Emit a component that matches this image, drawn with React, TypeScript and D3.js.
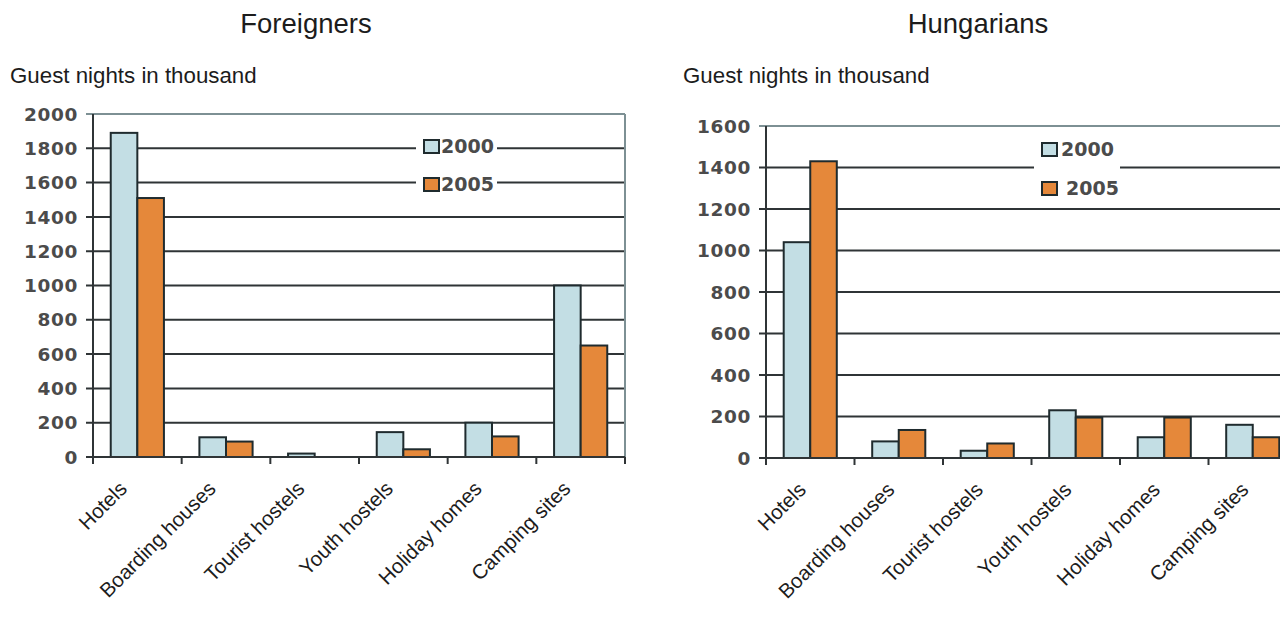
import React from "react";
import * as d3 from "d3";

const categories = ["Hotels", "Boarding houses", "Tourist hostels", "Youth hostels", "Holiday homes", "Camping sites"];
const years = ["2000", "2005"];
const foreigners2000 = [1890, 115, 20, 145, 200, 1000];
const foreigners2005 = [1510, 90, 0, 45, 120, 650];
const hungarians2000 = [1040, 80, 35, 230, 100, 160];
const hungarians2005 = [1430, 135, 70, 195, 195, 100];
const foreignersTicks = [0, 200, 400, 600, 800, 1000, 1200, 1400, 1600, 1800, 2000];
const hungariansTicks = [0, 200, 400, 600, 800, 1000, 1200, 1400, 1600];
const yAxisLabel = "Guest nights in thousand";

const COLORS: Record<string, string> = { "2000": "#c3dee4", "2005": "#e5883a" };
const GRID = "#2f3436";
const FRAME = "#7d9094";
const TICK_TEXT = "#4b4b4b";

type PanelProps = {
  title: string;
  titleX: number;
  labelX: number;
  x0: number;
  x1: number;
  yTop: number;
  yBottom: number;
  ticks: number[];
  s2000: number[];
  s2005: number[];
  catShift: number;
  legend: { bgX: number; bgY: number; bgW: number; bgH: number; items: { bx: number; by: number; tx: number }[] };
};

function Panel(p: PanelProps) {
  const max = p.ticks[p.ticks.length - 1];
  const y = d3.scaleLinear().domain([0, max]).range([p.yBottom, p.yTop]);
  const x = d3.scaleBand<string>().domain(categories).range([p.x0, p.x1]).padding(0);
  const xs = d3.scaleBand<string>().domain(years).range([0, x.bandwidth()]).paddingInner(0).paddingOuter(0.667);
  const series: Record<string, number[]> = { "2000": p.s2000, "2005": p.s2005 };
  const tickXs = categories.map((c) => x(c)!).concat([p.x1]);
  return (
    <g>
      <text x={p.titleX} y={33} textAnchor="middle" fontFamily="Liberation Sans, Arial, sans-serif" fontSize={27.5} fill="#1c1c1c">
        {p.title}
      </text>
      <text x={p.labelX} y={82.5} fontFamily="Liberation Sans, Arial, sans-serif" fontSize={22.3} fill="#1c1c1c">
        {yAxisLabel}
      </text>
      {p.ticks.map((t) => (
        <line
          key={"g" + t}
          x1={p.x0 - 7}
          x2={p.x1}
          y1={y(t)}
          y2={y(t)}
          stroke={t === max ? FRAME : GRID}
          strokeWidth={2}
        />
      ))}
      <line x1={p.x1} x2={p.x1} y1={p.yTop} y2={p.yBottom + 7} stroke={FRAME} strokeWidth={2} />
      {p.ticks.map((t) => (
        <text
          key={"t" + t}
          x={p.x0 - 15}
          y={y(t)}
          dy="0.36em"
          textAnchor="end"
          fontFamily="DejaVu Sans, Verdana, sans-serif"
          fontWeight="bold"
          fontSize={18.5}
          letterSpacing={0.6}
          fill={TICK_TEXT}
        >
          {t}
        </text>
      ))}
      <rect x={p.legend.bgX} y={p.legend.bgY} width={p.legend.bgW} height={p.legend.bgH} fill="#ffffff" />
      {years.map((yr) =>
        categories.map((c, i) => {
          const v = series[yr][i];
          if (v <= 0) return null;
          return (
            <rect
              key={yr + c}
              x={x(c)! + xs(yr)!}
              y={y(v)}
              width={xs.bandwidth()}
              height={p.yBottom - y(v)}
              fill={COLORS[yr]}
              stroke="#1f2b2e"
              strokeWidth={2}
            />
          );
        })
      )}
      <line x1={p.x0} x2={p.x0} y1={p.yTop} y2={p.yBottom + 7} stroke={GRID} strokeWidth={2} />
      <line x1={p.x0} x2={p.x1} y1={p.yBottom} y2={p.yBottom} stroke={GRID} strokeWidth={2} />
      {tickXs.map((tx, i) => (
        <line key={"xt" + i} x1={tx} x2={tx} y1={p.yBottom} y2={p.yBottom + 7} stroke={GRID} strokeWidth={2} />
      ))}
      {categories.map((c) => {
        const cx = x(c)! + x.bandwidth() / 2 + p.catShift;
        const cy = p.yBottom + 33;
        return (
          <text
            key={"c" + c}
            transform={`translate(${cx},${cy}) rotate(-45)`}
            textAnchor="end"
            fontFamily="Liberation Sans, Arial, sans-serif"
            fontSize={20.5}
            fill="#1c1c1c"
          >
            {c}
          </text>
        );
      })}
      {years.map((yr, i) => {
        const it = p.legend.items[i];
        return (
          <g key={"l" + yr}>
            <rect x={it.bx} y={it.by} width={15} height={13} fill={COLORS[yr]} stroke="#1f2b2e" strokeWidth={2} />
            <text
              x={it.tx}
              y={it.by + 6.5}
              dy="0.36em"
              fontFamily="DejaVu Sans, Verdana, sans-serif"
              fontWeight="bold"
              fontSize={19}
              fill={TICK_TEXT}
            >
              {yr}
            </text>
          </g>
        );
      })}
    </g>
  );
}

export default function App() {
  return (
    <svg width={1280} height={617} style={{ position: "absolute", left: 0, top: 0, background: "#ffffff" }}>
      <rect x={0} y={0} width={1280} height={617} fill="#ffffff" />
      <Panel
        title="Foreigners"
        titleX={306}
        labelX={10}
        x0={93}
        x1={625}
        yTop={114}
        yBottom={457}
        ticks={foreignersTicks}
        s2000={foreigners2000}
        s2005={foreigners2005}
        catShift={-9}
        legend={{
          bgX: 416,
          bgY: 130,
          bgW: 81,
          bgH: 68,
          items: [
            { bx: 424, by: 140, tx: 441 },
            { bx: 424, by: 178, tx: 441 },
          ],
        }}
      />
      <Panel
        title="Hungarians"
        titleX={978}
        labelX={683}
        x0={766}
        x1={1297}
        yTop={126}
        yBottom={458}
        ticks={hungariansTicks}
        s2000={hungarians2000}
        s2005={hungarians2005}
        catShift={-3}
        legend={{
          bgX: 1034,
          bgY: 134,
          bgW: 86,
          bgH: 66,
          items: [
            { bx: 1042, by: 143, tx: 1061 },
            { bx: 1042, by: 182, tx: 1066 },
          ],
        }}
      />
    </svg>
  );
}
